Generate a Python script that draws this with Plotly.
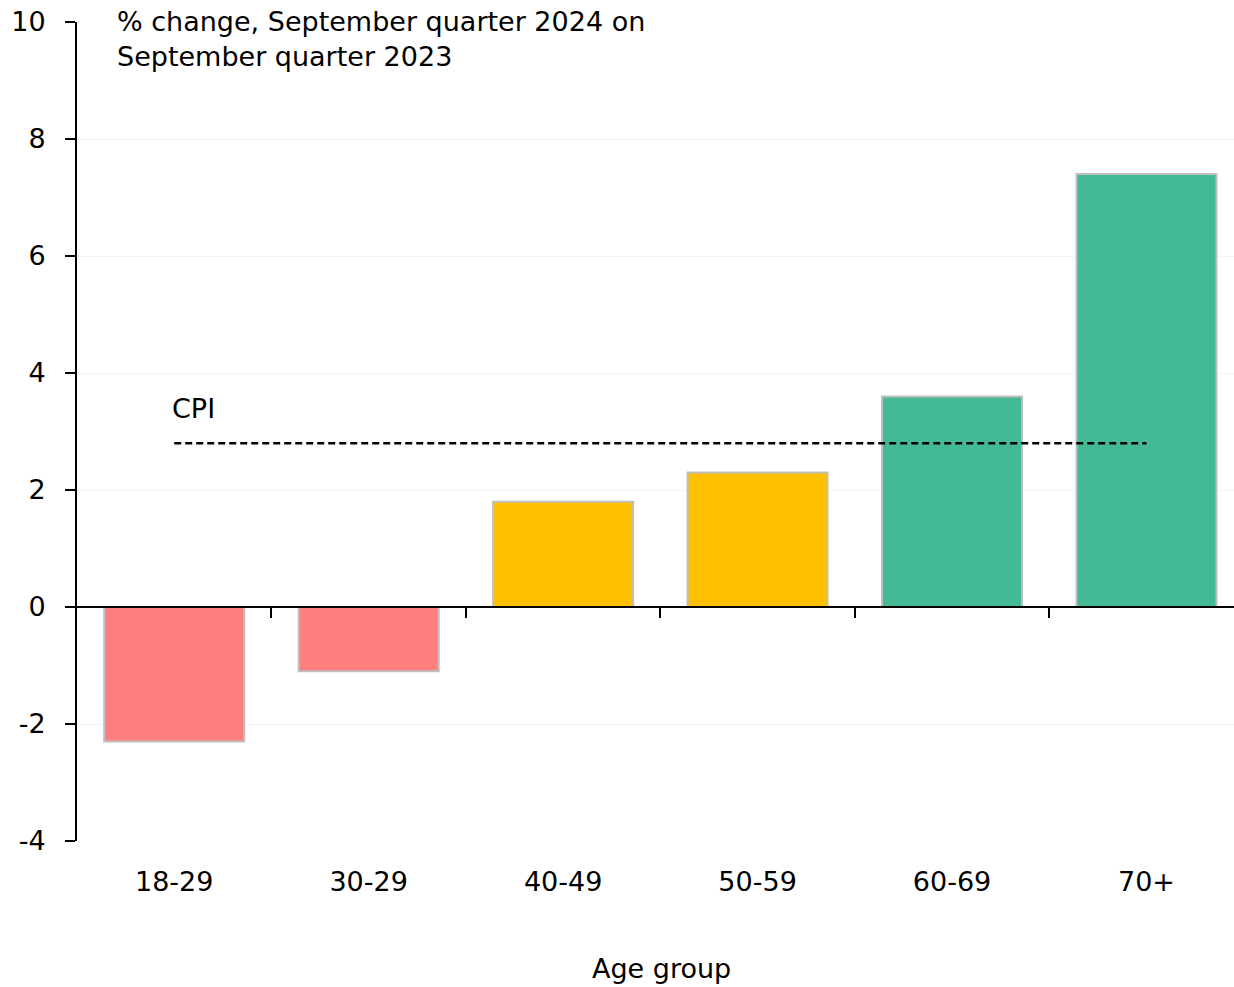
import plotly.graph_objects as go

# Annual change in living costs by age group
age_groups = ["18-29", "30-29", "40-49", "50-59", "60-69", "70+"]
pct_change = [-2.3, -1.1, 1.8, 2.3, 3.6, 7.4]
bar_colors = ["#FF7F7F", "#FF7F7F", "#FFC000", "#FFC000", "#43B996", "#43B996"]
cpi_value = 2.8
y_ticks = [-4, -2, 0, 2, 4, 6, 8, 10]
y_tick_text = ["-4", "-2", "0", "2", "4", "6", "8", "10"]

FONT = "DejaVu Sans"
FS = 27
x_range = [-0.5, 5.45]
y_range = [-4, 10]

fig = go.Figure()

fig.add_trace(go.Bar(
    x=list(range(len(age_groups))),
    y=pct_change,
    width=0.72,
    marker=dict(color=bar_colors, line=dict(color="#BFBFBF", width=2)),
    showlegend=False,
    hoverinfo="skip",
))

# CPI reference line spanning the first to last group
fig.add_trace(go.Scatter(
    x=[0, len(age_groups) - 1],
    y=[cpi_value, cpi_value],
    mode="lines",
    line=dict(color="black", width=2.5, dash="7px,4px"),
    showlegend=False,
    hoverinfo="skip",
))

# Zero axis with group-boundary ticks
fig.add_trace(go.Scatter(x=[0], y=[0], xaxis="x2", mode="markers",
                         marker=dict(opacity=0), showlegend=False, hoverinfo="skip"))

fig.update_layout(
    width=1234, height=987,
    margin=dict(l=77, r=0, t=22, b=146),
    paper_bgcolor="white", plot_bgcolor="white",
    font=dict(family=FONT, size=FS, color="black"),
    xaxis=dict(
        range=x_range,
        tickvals=list(range(len(age_groups))),
        ticktext=age_groups,
        showline=False, showgrid=False, zeroline=False,
        ticks="", ticklabelstandoff=22,
        tickfont=dict(family=FONT, size=FS, color="black"),
    ),
    xaxis2=dict(
        overlaying="x", anchor="free",
        position=(0 - y_range[0]) / (y_range[1] - y_range[0]),
        range=x_range,
        tickvals=[i + 0.5 for i in range(len(age_groups) - 1)],
        showticklabels=False,
        showline=True, linecolor="black", linewidth=2,
        ticks="outside", ticklen=10, tickwidth=2, tickcolor="black",
        showgrid=False, zeroline=False,
    ),
    yaxis=dict(
        range=y_range,
        tickvals=y_ticks,
        ticktext=y_tick_text,
        showline=True, linecolor="black", linewidth=2,
        ticks="outside", ticklen=10, tickwidth=2, tickcolor="black",
        showgrid=True, gridcolor="#F3F3F3", gridwidth=1,
        zeroline=False,
        ticklabelstandoff=14,
        tickfont=dict(family=FONT, size=FS, color="black"),
    ),
    annotations=[
        dict(text="% change, September quarter 2024 on<br>September quarter 2023",
             xref="paper", yref="paper", x=0.033, y=1.0, yshift=18,
             xanchor="left", yanchor="top", align="left", showarrow=False,
             font=dict(family=FONT, size=FS)),
        dict(text="CPI", xref="x", yref="y", x=-0.02, y=3.4,
             xanchor="left", yanchor="middle", showarrow=False,
             font=dict(family=FONT, size=FS)),
        dict(text="Age group", xref="paper", yref="paper", x=0.505, y=0,
             yshift=-127, xanchor="center", yanchor="middle", showarrow=False,
             font=dict(family=FONT, size=FS)),
    ],
)

fig.write_html("out.html")
